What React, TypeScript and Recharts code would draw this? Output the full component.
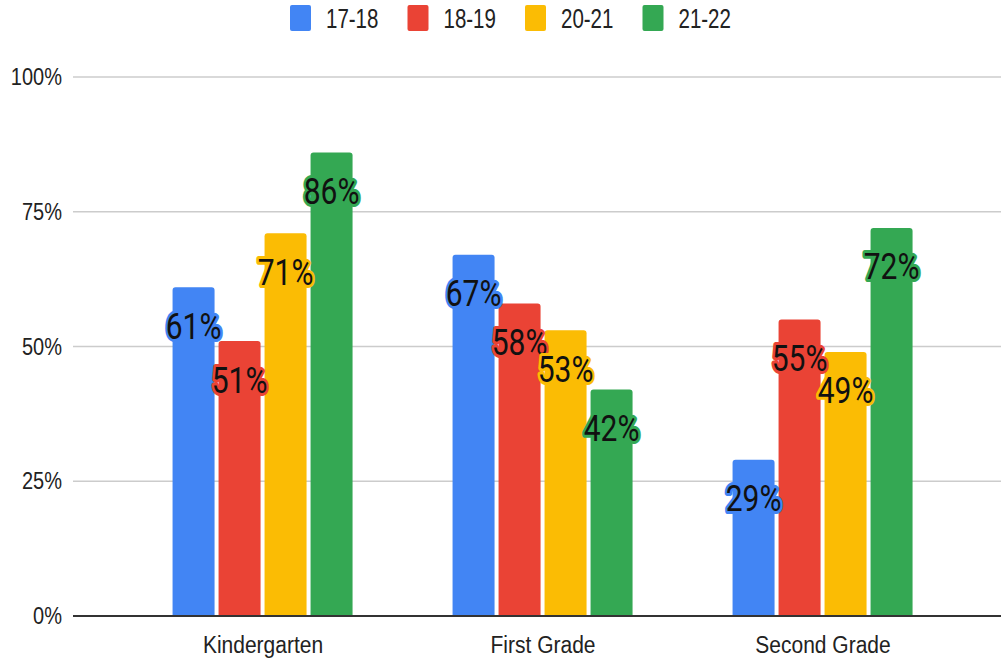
import React from "react";
import { BarChart, Bar, XAxis, YAxis, CartesianGrid, LabelList } from "recharts";

const categories = ["Kindergarten", "First Grade", "Second Grade"];
const seriesNames = ["17-18", "18-19", "20-21", "21-22"];
const s1718 = [61, 67, 29];
const s1819 = [51, 58, 55];
const s2021 = [71, 53, 49];
const s2122 = [86, 42, 72];
const yTicks = [0, 25, 50, 75, 100];

const colors = ["#4285F4", "#EA4335", "#FBBC04", "#34A853"];
const keys = ["a", "b", "c", "d"];

const data = categories.map((name, i) => ({
  name,
  a: s1718[i],
  b: s1819[i],
  c: s2021[i],
  d: s2122[i],
}));

const AXIS_FONT = "'Liberation Sans', Arial, sans-serif";

const YTick = (props: any) => {
  const { x, y, payload } = props;
  return (
    <g transform={`translate(${x - 3},${y}) scale(1,1.18)`}>
      <text x={0} y={0} textAnchor="end" dominantBaseline="central" fontSize={20} fontFamily={AXIS_FONT} fill="#222">
        {`${payload.value}%`}
      </text>
    </g>
  );
};

const XTick = (props: any) => {
  const { x, y, payload } = props;
  return (
    <g transform={`translate(${x},${y + 29}) scale(1,1.15)`}>
      <text x={0} y={0} textAnchor="middle" fontSize={21} fontFamily={AXIS_FONT} fill="#222">
        {payload.value}
      </text>
    </g>
  );
};

const makeLabel = (color: string) => (props: any) => {
  const { x, y, width, value } = props;
  const cx = x + width / 2;
  const cy = y + 39;
  return (
    <g transform={`translate(${cx},${cy}) scale(1,1.22)`}>
      <text
        x={0}
        y={0}
        textAnchor="middle"
        dominantBaseline="central"
        fontSize={30}
        fontFamily="Roboto, sans-serif"
        fill="#111"
        stroke={color}
        strokeWidth={5}
        strokeLinejoin="round"
        paintOrder="stroke"
      >
        {`${value}%`}
      </text>
    </g>
  );
};

const Legend = () => (
  <svg width={1001} height={40} style={{ position: "absolute", left: 0, top: 0 }}>
    {seriesNames.map((n, i) => {
      const x0 = 290 + i * 117.5;
      return (
        <g key={n}>
          <rect x={x0} y={5} width={21} height={26} rx={2} fill={colors[i]} />
          <g transform={`translate(${x0 + 36},18) scale(1,1.35)`}>
            <text x={0} y={0} dominantBaseline="central" fontSize={20.5} fontFamily={AXIS_FONT} fill="#222">
              {n}
            </text>
          </g>
        </g>
      );
    })}
  </svg>
);

export default function App() {
  return (
    <div style={{ position: "absolute", left: 0, top: 0, width: 1001, height: 661, background: "#fff" }}>
      <BarChart
        width={1001}
        height={661}
        data={data}
        margin={{ top: 77, right: 0, left: 0, bottom: 0 }}
        barCategoryGap="17.7%"
        barGap={4}
      >
        <CartesianGrid vertical={false} stroke="#cccccc" strokeWidth={1.5} />
        <XAxis
          dataKey="name"
          height={45}
          padding={{ left: 50, right: 38 }}
          axisLine={{ stroke: "#333", strokeWidth: 2 }}
          tickLine={false}
          tick={<XTick />}
          interval={0}
        />
        <YAxis
          width={73}
          domain={[0, 100]}
          ticks={yTicks}
          axisLine={false}
          tickLine={false}
          tick={<YTick />}
          interval={0}
        />
        {keys.map((k, i) => (
          <Bar key={k} dataKey={k} name={seriesNames[i]} fill={colors[i]} radius={[3, 3, 0, 0]} isAnimationActive={false}>
            <LabelList dataKey={k} content={makeLabel(colors[i])} />
          </Bar>
        ))}
      </BarChart>
      <Legend />
    </div>
  );
}
